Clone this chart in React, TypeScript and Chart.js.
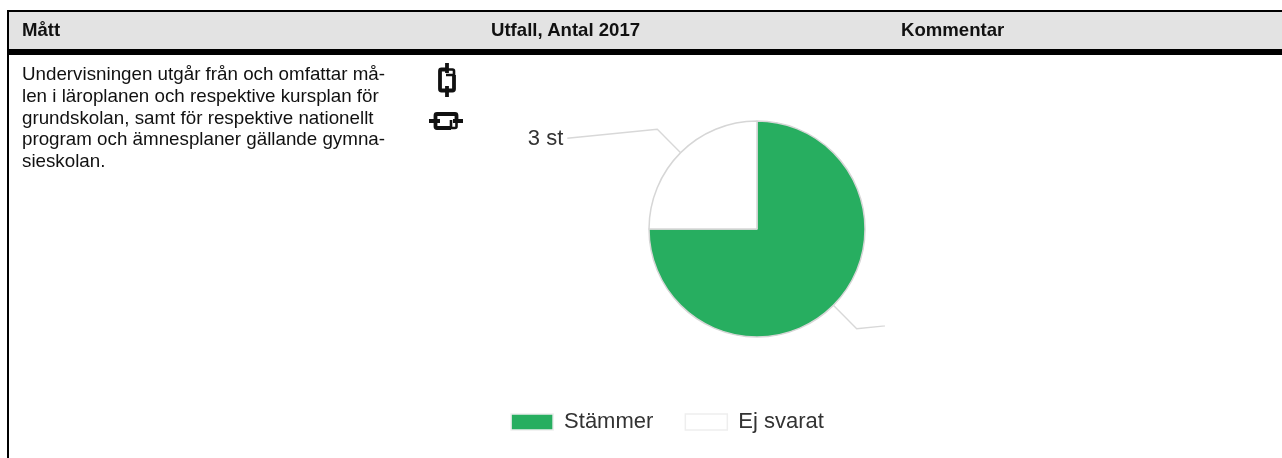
import React, { useEffect, useRef } from "react";
import { Chart, registerables } from "chart.js";

Chart.register(...registerables);

const categories = ["Stämmer", "Ej svarat"];
const counts = [9, 3];
const sliceColors = ["#27ae60", "#ffffff"];
const headers = ["Mått", "Utfall, Antal 2017", "Kommentar"];
const bodyLines = [
  "Undervisningen utgår från och omfattar må-",
  "len i läroplanen och respektive kursplan för",
  "grundskolan, samt för respektive nationellt",
  "program och ämnesplaner gällande gymna-",
  "sieskolan.",
];

const FONT = "'Liberation Sans', Arial, sans-serif";
const CANVAS_LEFT = 450;
const CANVAS_TOP = 55;
const CANVAS_W = 435;
const CANVAS_H = 388;
const PIE_CX = 757 - CANVAS_LEFT;
const PIE_CY = 229 - CANVAS_TOP;
const LABEL_FONT = 22;
const SOFT = "blur(0.4px)";

const placePie = {
  id: "placePie",
  afterLayout(chart: any) {
    chart.chartArea.left = PIE_CX - 128;
    chart.chartArea.right = PIE_CX + 128;
    chart.chartArea.top = PIE_CY - 128;
    chart.chartArea.bottom = PIE_CY + 128;
    chart.chartArea.width = 256;
    chart.chartArea.height = 256;
  },
};

const leaderLabels = {
  id: "leaderLabels",
  afterDatasetsDraw(chart: any) {
    const { ctx } = chart;
    const meta = chart.getDatasetMeta(0);
    meta.data.forEach((arc: any, i: number) => {
      const { x, y, startAngle, endAngle, outerRadius } = arc.getProps(
        ["x", "y", "startAngle", "endAngle", "outerRadius"],
        true
      );
      const mid = (startAngle + endAngle) / 2;
      const cos = Math.cos(mid);
      const sin = Math.sin(mid);
      const side = cos < 0 ? -1 : 1;
      const ax = x + cos * outerRadius;
      const ay = y + sin * outerRadius;
      const ex = x + cos * (outerRadius + 33);
      const ey = y + sin * (outerRadius + 33);
      const lx = ex + side * 90;
      const ly = ey - side * 9;
      ctx.save();
      ctx.strokeStyle = "#d8d8d8";
      ctx.lineWidth = 1.4;
      ctx.beginPath();
      ctx.moveTo(ax, ay);
      ctx.lineTo(ex, ey);
      ctx.lineTo(lx, ly);
      ctx.stroke();
      ctx.fillStyle = "#333333";
      ctx.font = `${LABEL_FONT}px ${FONT}`;
      ctx.textBaseline = "middle";
      ctx.textAlign = side < 0 ? "right" : "left";
      ctx.fillText(`${counts[i]} st`, lx + side * 4, ly + 1);
      ctx.restore();
    });
  },
};

const abs = (left: number, top: number, width: number, height: number, background: string): React.CSSProperties => ({
  position: "absolute",
  left,
  top,
  width,
  height,
  background,
});

function LinkIcon({ rotate, cx, cy }: { rotate: boolean; cx: number; cy: number }) {
  return (
    <svg
      style={{ position: "absolute", left: cx - 20, top: cy - 20, filter: SOFT }}
      width={40}
      height={40}
      viewBox="-20 -20 40 40"
    >
      <g
        transform={rotate ? "rotate(90)" : undefined}
        fill="none"
        stroke="#111"
        strokeWidth={3.8}
        strokeLinejoin="round"
      >
        <path d="M1 -10.5 H-5.5 Q-7 -10.5 -7 -9 V9 Q-7 10.5 -5.5 10.5 H1" />
        <path d="M-1 -5 H7 V-9 Q7 -10.5 5.5 -10.5 H0" strokeWidth={2.6} />
        <path d="M7 -5 V9 Q7 10.5 5.5 10.5 H-1" />
        <path d="M0 -17 V-7 M0 6 V17" />
      </g>
    </svg>
  );
}

export default function App() {
  const ref = useRef<HTMLCanvasElement>(null);
  useEffect(() => {
    document.body.style.margin = "0";
    const chart = new Chart(ref.current as HTMLCanvasElement, {
      type: "pie",
      data: {
        labels: categories,
        datasets: [
          {
            data: counts,
            backgroundColor: sliceColors,
            borderColor: "#d6d6d6",
            borderWidth: 1.5,
            radius: 108,
          },
        ],
      },
      options: {
        animation: false,
        responsive: false,
        plugins: {
          tooltip: { enabled: false },
          legend: {
            position: "bottom",
            labels: {
              boxWidth: 42,
              boxHeight: 16,
              padding: 32,
              color: "#333333",
              font: { family: FONT, size: LABEL_FONT },
              generateLabels(chart: any) {
                return Chart.overrides.pie.plugins.legend.labels
                  .generateLabels(chart)
                  .map((item: any) => ({ ...item, strokeStyle: "#eeeeee" }));
              },
            },
          },
        },
      },
      plugins: [placePie, leaderLabels],
    } as any);
    return () => chart.destroy();
  }, []);

  const headerLeft = [22, 491, 901];
  return (
    <div style={{ position: "relative", width: 1282, height: 458, overflow: "hidden", background: "#fff", fontFamily: FONT }}>
      <div style={abs(9, 12, 1273, 37, "#e3e3e3")} />
      <div style={abs(7, 10, 1275, 2, "#000")} />
      <div style={abs(7, 49, 1275, 6, "#000")} />
      <div style={abs(7, 10, 2, 448, "#000")} />
      {headers.map((h, i) => (
        <div
          key={h}
          style={{
            position: "absolute",
            left: headerLeft[i],
            top: 19,
            lineHeight: "22px",
            fontSize: 18.6,
            fontWeight: 700,
            color: "#111",
            whiteSpace: "nowrap",
            filter: SOFT,
          }}
        >
          {h}
        </div>
      ))}
      {bodyLines.map((l, i) => (
        <div
          key={l}
          style={{
            position: "absolute",
            left: 22,
            top: 63 + i * 21.75,
            lineHeight: "22px",
            fontSize: 18.78,
            color: "#111",
            whiteSpace: "nowrap",
            filter: SOFT,
          }}
        >
          {l}
        </div>
      ))}
      <LinkIcon rotate={false} cx={447} cy={79.5} />
      <LinkIcon rotate cx={446} cy={121} />
      <canvas
        ref={ref}
        width={CANVAS_W}
        height={CANVAS_H}
        style={{ position: "absolute", left: CANVAS_LEFT, top: CANVAS_TOP, width: CANVAS_W, height: CANVAS_H, filter: SOFT }}
      />
    </div>
  );
}
